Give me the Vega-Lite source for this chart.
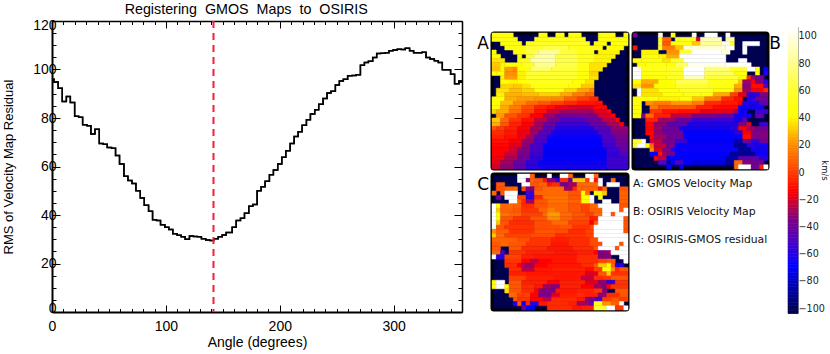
{"$schema":"https://vega.github.io/schema/vega-lite/v6.json","background":"white","padding":{"left":2,"top":2,"right":0,"bottom":0},"spacing":4,"config":{"view":{"stroke":null},"font":"Liberation Sans"},
"datasets":{"curve":[{"a":0,"r":96},{"a":1.8,"r":94.8},{"a":5.4,"r":92.3},{"a":9,"r":86.8},{"a":12.6,"r":88.9},{"a":16.1,"r":86.4},{"a":19.9,"r":80.7},{"a":23.4,"r":80.3},{"a":26.9,"r":77.2},{"a":30.7,"r":76.8},{"a":34.2,"r":73.4},{"a":37.7,"r":75.4},{"a":41.5,"r":69.5},{"a":45,"r":69.2},{"a":48.5,"r":67.8},{"a":52.3,"r":67.5},{"a":55.8,"r":64.5},{"a":59.3,"r":61},{"a":63.2,"r":56},{"a":66.7,"r":54.2},{"a":70.2,"r":53},{"a":73.7,"r":50},{"a":77.5,"r":47},{"a":81,"r":44},{"a":84.8,"r":41.5},{"a":88.3,"r":38},{"a":91.8,"r":37.7},{"a":95.3,"r":36},{"a":99.1,"r":35},{"a":102.6,"r":34},{"a":106.1,"r":32.3},{"a":109.9,"r":31.7},{"a":113.4,"r":31},{"a":116.9,"r":30},{"a":120.7,"r":31.3},{"a":124.2,"r":31.1},{"a":127.7,"r":31},{"a":131.2,"r":30.2},{"a":135,"r":29.7},{"a":138.5,"r":29.5},{"a":142,"r":30.2},{"a":145.9,"r":31},{"a":149.4,"r":31.8},{"a":152.9,"r":32.8},{"a":158.2,"r":35},{"a":161.7,"r":37.7},{"a":165.5,"r":38.7},{"a":169,"r":40.7},{"a":172.8,"r":43.6},{"a":176.3,"r":44.3},{"a":180.1,"r":50},{"a":183.6,"r":51.7},{"a":187.1,"r":53.9},{"a":190.9,"r":56.6},{"a":194.4,"r":58.6},{"a":198.2,"r":61},{"a":201.8,"r":63.8},{"a":205.3,"r":66.5},{"a":209.1,"r":69.5},{"a":212.6,"r":72.4},{"a":216.1,"r":74.3},{"a":219.6,"r":77},{"a":223.4,"r":79.3},{"a":226.9,"r":81.6},{"a":230.7,"r":83.4},{"a":234.2,"r":85.7},{"a":238,"r":88},{"a":241.5,"r":90.3},{"a":245,"r":91},{"a":248.8,"r":93.6},{"a":252.3,"r":95.3},{"a":255.8,"r":96},{"a":259.6,"r":97.4},{"a":263.4,"r":97.5},{"a":267,"r":97.8},{"a":270.8,"r":101.8},{"a":274.3,"r":102.9},{"a":277.8,"r":103.4},{"a":281.6,"r":105},{"a":285.1,"r":106.6},{"a":288.6,"r":106.7},{"a":292.4,"r":106.9},{"a":295.9,"r":107.7},{"a":299.4,"r":108},{"a":303.2,"r":108.4},{"a":306.7,"r":108.2},{"a":310.2,"r":108.8},{"a":314,"r":107.7},{"a":317.5,"r":106.9},{"a":321.1,"r":106.9},{"a":324.9,"r":107.1},{"a":328.4,"r":105},{"a":331.9,"r":104.3},{"a":335.7,"r":103.6},{"a":339.2,"r":102.9},{"a":342.7,"r":99.9},{"a":346.5,"r":99.9},{"a":350,"r":98},{"a":353.5,"r":94.1},{"a":357.3,"r":95.3},{"a":360,"r":95.3}],
"A":[{"x":0,"x2":5,"y":0,"v":45},{"x":11,"x2":13,"y":0,"v":45},{"x":15,"x2":17,"y":0,"v":48},{"x":18,"x2":21,"y":0,"v":45},{"x":25,"x2":29,"y":0,"v":45},{"x":31,"x2":32,"y":0,"v":45},
{"x":0,"x2":6,"y":1,"v":45},{"x":10,"x2":22,"y":1,"v":50},{"x":25,"x2":32,"y":1,"v":45},
{"x":2,"x2":7,"y":2,"v":45},{"x":8,"x2":23,"y":2,"v":55},{"x":24,"x2":27,"y":2,"v":45},{"x":28,"x2":32,"y":2,"v":42},
{"x":3,"x2":8,"y":3,"v":45},{"x":8,"x2":12,"y":3,"v":60},{"x":12,"x2":18,"y":3,"v":65},{"x":18,"x2":24,"y":3,"v":50},{"x":24,"x2":26,"y":3,"v":45},{"x":27,"x2":31,"y":3,"v":40},
{"x":0,"x2":1,"y":4,"v":40},{"x":5,"x2":8,"y":4,"v":45},{"x":8,"x2":11,"y":4,"v":65},{"x":11,"x2":16,"y":4,"v":80},{"x":16,"x2":20,"y":4,"v":62},{"x":20,"x2":24,"y":4,"v":50},{"x":25,"x2":30,"y":4,"v":38},
{"x":0,"x2":2,"y":5,"v":40},{"x":6,"x2":7,"y":5,"v":45},{"x":8,"x2":10,"y":5,"v":62},{"x":10,"x2":15,"y":5,"v":85},{"x":15,"x2":20,"y":5,"v":65},{"x":20,"x2":24,"y":5,"v":50},{"x":24,"x2":29,"y":5,"v":38},
{"x":0,"x2":3,"y":6,"v":35},{"x":6,"x2":9,"y":6,"v":48},{"x":9,"x2":15,"y":6,"v":85},{"x":15,"x2":20,"y":6,"v":65},{"x":20,"x2":24,"y":6,"v":50},{"x":24,"x2":28,"y":6,"v":38},
{"x":0,"x2":2,"y":7,"v":30},{"x":2,"x2":3,"y":7,"v":38},{"x":3,"x2":7,"y":7,"v":40},{"x":7,"x2":10,"y":7,"v":55},{"x":10,"x2":15,"y":7,"v":80},{"x":15,"x2":20,"y":7,"v":65},{"x":20,"x2":23,"y":7,"v":50},{"x":23,"x2":27,"y":7,"v":35},
{"x":0,"x2":2,"y":8,"v":28},{"x":2,"x2":3,"y":8,"v":40},{"x":3,"x2":5,"y":8,"v":22},{"x":5,"x2":6,"y":8,"v":18},{"x":6,"x2":9,"y":8,"v":45},{"x":9,"x2":14,"y":8,"v":72},{"x":14,"x2":20,"y":8,"v":62},{"x":20,"x2":23,"y":8,"v":48},{"x":23,"x2":26,"y":8,"v":35},
{"x":0,"x2":1,"y":9,"v":45},{"x":1,"x2":3,"y":9,"v":40},{"x":3,"x2":6,"y":9,"v":20},{"x":6,"x2":8,"y":9,"v":38},{"x":8,"x2":20,"y":9,"v":60},{"x":20,"x2":23,"y":9,"v":45},{"x":23,"x2":25,"y":9,"v":32},
{"x":2,"x2":3,"y":10,"v":38},{"x":3,"x2":6,"y":10,"v":22},{"x":6,"x2":8,"y":10,"v":38},{"x":8,"x2":20,"y":10,"v":58},{"x":20,"x2":23,"y":10,"v":45},{"x":23,"x2":25,"y":10,"v":35},
{"x":2,"x2":4,"y":11,"v":40},{"x":4,"x2":6,"y":11,"v":38},{"x":6,"x2":8,"y":11,"v":42},{"x":8,"x2":19,"y":11,"v":52},{"x":19,"x2":22,"y":11,"v":42},{"x":22,"x2":24,"y":11,"v":35},
{"x":2,"x2":5,"y":12,"v":32},{"x":5,"x2":7,"y":12,"v":30},{"x":7,"x2":9,"y":12,"v":35},{"x":9,"x2":18,"y":12,"v":48},{"x":18,"x2":21,"y":12,"v":40},{"x":21,"x2":24,"y":12,"v":30},
{"x":1,"x2":4,"y":13,"v":35},{"x":4,"x2":7,"y":13,"v":28},{"x":7,"x2":10,"y":13,"v":32},{"x":10,"x2":17,"y":13,"v":42},{"x":17,"x2":20,"y":13,"v":33},{"x":20,"x2":23,"y":13,"v":24},{"x":23,"x2":24,"y":13,"v":18},
{"x":1,"x2":3,"y":14,"v":38},{"x":3,"x2":7,"y":14,"v":26},{"x":7,"x2":11,"y":14,"v":28},{"x":11,"x2":16,"y":14,"v":32},{"x":16,"x2":19,"y":14,"v":24},{"x":19,"x2":22,"y":14,"v":15},{"x":22,"x2":24,"y":14,"v":8},
{"x":0,"x2":3,"y":15,"v":40},{"x":3,"x2":6,"y":15,"v":25},{"x":6,"x2":10,"y":15,"v":22},{"x":10,"x2":14,"y":15,"v":20},{"x":14,"x2":17,"y":15,"v":18},{"x":17,"x2":20,"y":15,"v":8},{"x":20,"x2":23,"y":15,"v":0},{"x":23,"x2":25,"y":15,"v":-5},
{"x":0,"x2":2,"y":16,"v":42},{"x":2,"x2":5,"y":16,"v":28},{"x":5,"x2":8,"y":16,"v":18},{"x":8,"x2":11,"y":16,"v":10},{"x":11,"x2":14,"y":16,"v":5},{"x":14,"x2":17,"y":16,"v":0},{"x":17,"x2":20,"y":16,"v":-5},{"x":20,"x2":24,"y":16,"v":-10},{"x":24,"x2":26,"y":16,"v":-12},
{"x":0,"x2":2,"y":17,"v":40},{"x":2,"x2":4,"y":17,"v":25},{"x":4,"x2":7,"y":17,"v":15},{"x":7,"x2":10,"y":17,"v":3},{"x":10,"x2":13,"y":17,"v":-8},{"x":13,"x2":15,"y":17,"v":-12},{"x":15,"x2":18,"y":17,"v":-18},{"x":18,"x2":24,"y":17,"v":-22},{"x":24,"x2":27,"y":17,"v":-14},
{"x":0,"x2":1,"y":18,"v":32},{"x":1,"x2":4,"y":18,"v":25},{"x":4,"x2":7,"y":18,"v":12},{"x":7,"x2":10,"y":18,"v":0},{"x":10,"x2":13,"y":18,"v":-12},{"x":13,"x2":16,"y":18,"v":-25},{"x":16,"x2":24,"y":18,"v":-30},{"x":24,"x2":27,"y":18,"v":-20},{"x":27,"x2":28,"y":18,"v":-14},
{"x":1,"x2":3,"y":19,"v":22},{"x":3,"x2":6,"y":19,"v":5},{"x":6,"x2":9,"y":19,"v":-3},{"x":9,"x2":12,"y":19,"v":-15},{"x":12,"x2":15,"y":19,"v":-30},{"x":15,"x2":20,"y":19,"v":-40},{"x":20,"x2":25,"y":19,"v":-38},{"x":25,"x2":28,"y":19,"v":-22},{"x":28,"x2":29,"y":19,"v":-15},
{"x":0,"x2":2,"y":20,"v":30},{"x":2,"x2":4,"y":20,"v":10},{"x":4,"x2":7,"y":20,"v":-3},{"x":7,"x2":10,"y":20,"v":-12},{"x":10,"x2":13,"y":20,"v":-25},{"x":13,"x2":16,"y":20,"v":-38},{"x":16,"x2":22,"y":20,"v":-50},{"x":22,"x2":26,"y":20,"v":-40},{"x":26,"x2":29,"y":20,"v":-25},{"x":29,"x2":30,"y":20,"v":-14},
{"x":0,"x2":2,"y":21,"v":25},{"x":2,"x2":4,"y":21,"v":5},{"x":4,"x2":7,"y":21,"v":-8},{"x":7,"x2":10,"y":21,"v":-15},{"x":10,"x2":12,"y":21,"v":-30},{"x":12,"x2":15,"y":21,"v":-42},{"x":15,"x2":23,"y":21,"v":-55},{"x":23,"x2":27,"y":21,"v":-42},{"x":27,"x2":30,"y":21,"v":-28},{"x":30,"x2":31,"y":21,"v":-15},
{"x":0,"x2":1,"y":22,"v":5},{"x":1,"x2":3,"y":22,"v":-2},{"x":3,"x2":6,"y":22,"v":-8},{"x":6,"x2":9,"y":22,"v":-15},{"x":9,"x2":12,"y":22,"v":-30},{"x":12,"x2":15,"y":22,"v":-48},{"x":15,"x2":24,"y":22,"v":-62},{"x":24,"x2":28,"y":22,"v":-48},{"x":28,"x2":32,"y":22,"v":-32},
{"x":0,"x2":3,"y":23,"v":-5},{"x":3,"x2":6,"y":23,"v":-10},{"x":6,"x2":9,"y":23,"v":-18},{"x":9,"x2":11,"y":23,"v":-30},{"x":11,"x2":14,"y":23,"v":-48},{"x":14,"x2":25,"y":23,"v":-65},{"x":25,"x2":28,"y":23,"v":-50},{"x":28,"x2":32,"y":23,"v":-35},
{"x":0,"x2":3,"y":24,"v":-8},{"x":3,"x2":6,"y":24,"v":-12},{"x":6,"x2":8,"y":24,"v":-18},{"x":8,"x2":10,"y":24,"v":-30},{"x":10,"x2":13,"y":24,"v":-50},{"x":13,"x2":26,"y":24,"v":-68},{"x":26,"x2":29,"y":24,"v":-50},{"x":29,"x2":32,"y":24,"v":-38},
{"x":0,"x2":4,"y":25,"v":-12},{"x":4,"x2":7,"y":25,"v":-17},{"x":7,"x2":10,"y":25,"v":-32},{"x":10,"x2":13,"y":25,"v":-52},{"x":13,"x2":26,"y":25,"v":-70},{"x":26,"x2":29,"y":25,"v":-52},{"x":29,"x2":32,"y":25,"v":-40},
{"x":0,"x2":4,"y":26,"v":-14},{"x":4,"x2":7,"y":26,"v":-20},{"x":7,"x2":9,"y":26,"v":-33},{"x":9,"x2":12,"y":26,"v":-52},{"x":12,"x2":26,"y":26,"v":-70},{"x":26,"x2":29,"y":26,"v":-55},{"x":29,"x2":32,"y":26,"v":-42},
{"x":0,"x2":4,"y":27,"v":-15},{"x":4,"x2":6,"y":27,"v":-22},{"x":6,"x2":9,"y":27,"v":-35},{"x":9,"x2":12,"y":27,"v":-52},{"x":12,"x2":27,"y":27,"v":-72},{"x":27,"x2":30,"y":27,"v":-55},{"x":30,"x2":32,"y":27,"v":-45},
{"x":0,"x2":3,"y":28,"v":-15},{"x":3,"x2":6,"y":28,"v":-25},{"x":6,"x2":9,"y":28,"v":-38},{"x":9,"x2":12,"y":28,"v":-55},{"x":12,"x2":27,"y":28,"v":-72},{"x":27,"x2":30,"y":28,"v":-58},{"x":30,"x2":32,"y":28,"v":-48},
{"x":0,"x2":3,"y":29,"v":-17},{"x":3,"x2":6,"y":29,"v":-28},{"x":6,"x2":9,"y":29,"v":-40},{"x":9,"x2":12,"y":29,"v":-58},{"x":12,"x2":27,"y":29,"v":-70},{"x":27,"x2":32,"y":29,"v":-55},
{"x":0,"x2":2,"y":30,"v":-18},{"x":2,"x2":5,"y":30,"v":-30},{"x":5,"x2":8,"y":30,"v":-42},{"x":8,"x2":11,"y":30,"v":-58},{"x":11,"x2":27,"y":30,"v":-68},{"x":27,"x2":32,"y":30,"v":-55},
{"x":0,"x2":2,"y":31,"v":-22},{"x":2,"x2":5,"y":31,"v":-33},{"x":5,"x2":8,"y":31,"v":-45},{"x":8,"x2":11,"y":31,"v":-60},{"x":11,"x2":27,"y":31,"v":-65},{"x":27,"x2":32,"y":31,"v":-55}],
"B":[{"x":0,"x2":1,"y":0,"v":-40},{"x":6,"x2":7,"y":0,"v":100},{"x":9,"x2":10,"y":0,"v":55},{"x":14,"x2":15,"y":0,"v":100},{"x":17,"x2":20,"y":0,"v":105},{"x":22,"x2":23,"y":0,"v":105},
{"x":6,"x2":7,"y":1,"v":55},{"x":7,"x2":9,"y":1,"v":10},{"x":10,"x2":15,"y":1,"v":55},{"x":15,"x2":16,"y":1,"v":-20},{"x":16,"x2":21,"y":1,"v":90},{"x":22,"x2":24,"y":1,"v":85},
{"x":6,"x2":7,"y":2,"v":60},{"x":7,"x2":9,"y":2,"v":5},{"x":9,"x2":14,"y":2,"v":45},{"x":14,"x2":16,"y":2,"v":30},{"x":16,"x2":21,"y":2,"v":80},{"x":21,"x2":23,"y":2,"v":100},{"x":23,"x2":24,"y":2,"v":60},{"x":26,"x2":30,"y":2,"v":105},
{"x":0,"x2":1,"y":3,"v":-10},{"x":6,"x2":7,"y":3,"v":50},{"x":7,"x2":10,"y":3,"v":15},{"x":10,"x2":12,"y":3,"v":30},{"x":12,"x2":22,"y":3,"v":95},{"x":22,"x2":24,"y":3,"v":105},{"x":26,"x2":27,"y":3,"v":105},
{"x":2,"x2":6,"y":4,"v":38},{"x":8,"x2":11,"y":4,"v":20},{"x":11,"x2":14,"y":4,"v":60},{"x":14,"x2":21,"y":4,"v":105},{"x":21,"x2":23,"y":4,"v":95},{"x":26,"x2":27,"y":4,"v":105},
{"x":2,"x2":6,"y":5,"v":42},{"x":6,"x2":8,"y":5,"v":38},{"x":8,"x2":11,"y":5,"v":25},{"x":11,"x2":22,"y":5,"v":105},
{"x":0,"x2":2,"y":6,"v":45},{"x":2,"x2":7,"y":6,"v":45},{"x":7,"x2":9,"y":6,"v":35},{"x":9,"x2":12,"y":6,"v":60},{"x":12,"x2":22,"y":6,"v":105},{"x":25,"x2":27,"y":6,"v":105},
{"x":1,"x2":3,"y":7,"v":40},{"x":3,"x2":8,"y":7,"v":48},{"x":8,"x2":10,"y":7,"v":42},{"x":10,"x2":13,"y":7,"v":70},{"x":13,"x2":22,"y":7,"v":100},{"x":22,"x2":28,"y":7,"v":105},
{"x":0,"x2":2,"y":8,"v":105},{"x":2,"x2":8,"y":8,"v":50},{"x":8,"x2":12,"y":8,"v":60},{"x":12,"x2":17,"y":8,"v":105},{"x":17,"x2":23,"y":8,"v":75},{"x":23,"x2":27,"y":8,"v":60},{"x":27,"x2":29,"y":8,"v":105},{"x":29,"x2":30,"y":8,"v":50},{"x":31,"x2":32,"y":8,"v":-70},
{"x":0,"x2":2,"y":9,"v":105},{"x":2,"x2":9,"y":9,"v":48},{"x":9,"x2":12,"y":9,"v":60},{"x":12,"x2":17,"y":9,"v":105},{"x":17,"x2":24,"y":9,"v":70},{"x":24,"x2":27,"y":9,"v":45},{"x":29,"x2":30,"y":9,"v":40},{"x":31,"x2":32,"y":9,"v":-60},
{"x":0,"x2":2,"y":10,"v":105},{"x":2,"x2":8,"y":10,"v":45},{"x":8,"x2":12,"y":10,"v":55},{"x":12,"x2":17,"y":10,"v":90},{"x":17,"x2":25,"y":10,"v":62},{"x":25,"x2":27,"y":10,"v":42},{"x":27,"x2":28,"y":10,"v":-5},{"x":28,"x2":29,"y":10,"v":-30},{"x":29,"x2":31,"y":10,"v":-40},
{"x":0,"x2":2,"y":11,"v":40},{"x":2,"x2":6,"y":11,"v":25},{"x":6,"x2":10,"y":11,"v":42},{"x":10,"x2":18,"y":11,"v":68},{"x":18,"x2":25,"y":11,"v":50},{"x":25,"x2":26,"y":11,"v":30},{"x":26,"x2":28,"y":11,"v":-30},{"x":28,"x2":29,"y":11,"v":-15},{"x":29,"x2":31,"y":11,"v":-35},{"x":31,"x2":32,"y":11,"v":-60},
{"x":0,"x2":2,"y":12,"v":35},{"x":2,"x2":5,"y":12,"v":20},{"x":5,"x2":10,"y":12,"v":40},{"x":10,"x2":18,"y":12,"v":60},{"x":18,"x2":24,"y":12,"v":48},{"x":24,"x2":26,"y":12,"v":25},{"x":26,"x2":28,"y":12,"v":-35},{"x":28,"x2":31,"y":12,"v":-12},{"x":31,"x2":32,"y":12,"v":-50},
{"x":1,"x2":2,"y":13,"v":105},{"x":2,"x2":6,"y":13,"v":35},{"x":6,"x2":11,"y":13,"v":42},{"x":11,"x2":19,"y":13,"v":55},{"x":19,"x2":24,"y":13,"v":40},{"x":24,"x2":26,"y":13,"v":20},{"x":26,"x2":28,"y":13,"v":-30},{"x":28,"x2":31,"y":13,"v":-15},{"x":31,"x2":32,"y":13,"v":-5},
{"x":1,"x2":2,"y":14,"v":105},{"x":2,"x2":7,"y":14,"v":35},{"x":7,"x2":12,"y":14,"v":42},{"x":12,"x2":16,"y":14,"v":48},{"x":16,"x2":19,"y":14,"v":45},{"x":19,"x2":23,"y":14,"v":25},{"x":23,"x2":25,"y":14,"v":0},{"x":25,"x2":27,"y":14,"v":-20},{"x":27,"x2":30,"y":14,"v":-60},{"x":30,"x2":32,"y":14,"v":-35},
{"x":0,"x2":6,"y":15,"v":40},{"x":6,"x2":11,"y":15,"v":38},{"x":11,"x2":14,"y":15,"v":42},{"x":14,"x2":17,"y":15,"v":30},{"x":17,"x2":21,"y":15,"v":15},{"x":21,"x2":24,"y":15,"v":-5},{"x":24,"x2":26,"y":15,"v":-12},{"x":27,"x2":29,"y":15,"v":-60},{"x":29,"x2":32,"y":15,"v":-40},
{"x":0,"x2":2,"y":16,"v":42},{"x":3,"x2":5,"y":16,"v":20},{"x":5,"x2":9,"y":16,"v":15},{"x":9,"x2":14,"y":16,"v":22},{"x":14,"x2":17,"y":16,"v":15},{"x":17,"x2":21,"y":16,"v":-5},{"x":21,"x2":25,"y":16,"v":-10},{"x":25,"x2":26,"y":16,"v":-15},{"x":26,"x2":30,"y":16,"v":-62},{"x":30,"x2":32,"y":16,"v":-45},
{"x":0,"x2":2,"y":17,"v":45},{"x":4,"x2":6,"y":17,"v":15},{"x":6,"x2":15,"y":17,"v":5},{"x":15,"x2":19,"y":17,"v":-8},{"x":19,"x2":25,"y":17,"v":-14},{"x":25,"x2":31,"y":17,"v":-65},
{"x":0,"x2":2,"y":18,"v":45},{"x":4,"x2":7,"y":18,"v":-2},{"x":7,"x2":11,"y":18,"v":-10},{"x":11,"x2":16,"y":18,"v":-12},{"x":16,"x2":24,"y":18,"v":-20},{"x":24,"x2":25,"y":18,"v":-30},{"x":25,"x2":27,"y":18,"v":-68},{"x":29,"x2":32,"y":18,"v":-55},
{"x":0,"x2":2,"y":19,"v":42},{"x":2,"x2":3,"y":19,"v":-35},{"x":3,"x2":5,"y":19,"v":10},{"x":5,"x2":9,"y":19,"v":-8},{"x":9,"x2":14,"y":19,"v":-25},{"x":14,"x2":20,"y":19,"v":-35},{"x":20,"x2":24,"y":19,"v":-42},{"x":24,"x2":28,"y":19,"v":-65},{"x":29,"x2":31,"y":19,"v":-45},
{"x":3,"x2":6,"y":20,"v":-8},{"x":6,"x2":10,"y":20,"v":-30},{"x":10,"x2":14,"y":20,"v":-42},{"x":14,"x2":24,"y":20,"v":-55},{"x":24,"x2":26,"y":20,"v":-65},{"x":26,"x2":27,"y":20,"v":-45},
{"x":3,"x2":5,"y":21,"v":-14},{"x":5,"x2":8,"y":21,"v":-32},{"x":8,"x2":13,"y":21,"v":-45},{"x":13,"x2":25,"y":21,"v":-62},{"x":25,"x2":27,"y":21,"v":-35},{"x":27,"x2":28,"y":21,"v":-20},{"x":30,"x2":32,"y":21,"v":-55},
{"x":3,"x2":5,"y":22,"v":-15},{"x":5,"x2":7,"y":22,"v":-30},{"x":7,"x2":11,"y":22,"v":-42},{"x":11,"x2":23,"y":22,"v":-65},{"x":23,"x2":25,"y":22,"v":-60},{"x":25,"x2":27,"y":22,"v":-15},{"x":27,"x2":29,"y":22,"v":-30},{"x":29,"x2":32,"y":22,"v":-40},
{"x":3,"x2":5,"y":23,"v":-14},{"x":5,"x2":7,"y":23,"v":-32},{"x":7,"x2":12,"y":23,"v":-40},{"x":12,"x2":24,"y":23,"v":-70},{"x":24,"x2":26,"y":23,"v":-60},{"x":26,"x2":28,"y":23,"v":-15},{"x":28,"x2":32,"y":23,"v":-35},
{"x":4,"x2":5,"y":24,"v":-15},{"x":5,"x2":8,"y":24,"v":-30},{"x":8,"x2":12,"y":24,"v":-40},{"x":12,"x2":26,"y":24,"v":-70},{"x":26,"x2":28,"y":24,"v":-12},{"x":28,"x2":32,"y":24,"v":-35},
{"x":0,"x2":2,"y":25,"v":60},{"x":2,"x2":3,"y":25,"v":105},{"x":4,"x2":7,"y":25,"v":-25},{"x":7,"x2":10,"y":25,"v":-38},{"x":10,"x2":13,"y":25,"v":-55},{"x":13,"x2":24,"y":25,"v":-72},{"x":24,"x2":26,"y":25,"v":-85},{"x":26,"x2":28,"y":25,"v":-40},{"x":28,"x2":30,"y":25,"v":-60},{"x":30,"x2":32,"y":25,"v":-40},
{"x":0,"x2":1,"y":26,"v":60},{"x":1,"x2":3,"y":26,"v":105},{"x":3,"x2":4,"y":26,"v":40},{"x":4,"x2":5,"y":26,"v":10},{"x":5,"x2":8,"y":26,"v":-25},{"x":8,"x2":10,"y":26,"v":-38},{"x":10,"x2":24,"y":26,"v":-68},{"x":24,"x2":27,"y":26,"v":-90},{"x":27,"x2":29,"y":26,"v":-60},{"x":29,"x2":32,"y":26,"v":-65},
{"x":4,"x2":5,"y":27,"v":20},{"x":5,"x2":7,"y":27,"v":-20},{"x":7,"x2":9,"y":27,"v":-35},{"x":9,"x2":10,"y":27,"v":-60},{"x":10,"x2":25,"y":27,"v":-68},{"x":25,"x2":28,"y":27,"v":-90},{"x":28,"x2":32,"y":27,"v":-65},
{"x":4,"x2":6,"y":28,"v":-70},{"x":6,"x2":7,"y":28,"v":-10},{"x":7,"x2":8,"y":28,"v":-30},{"x":8,"x2":10,"y":28,"v":-38},{"x":10,"x2":23,"y":28,"v":-70},{"x":23,"x2":29,"y":28,"v":-90},{"x":29,"x2":32,"y":28,"v":-68},
{"x":5,"x2":6,"y":29,"v":-15},{"x":6,"x2":8,"y":29,"v":-25},{"x":8,"x2":22,"y":29,"v":-70},{"x":22,"x2":25,"y":29,"v":-85},{"x":25,"x2":30,"y":29,"v":-45},{"x":30,"x2":32,"y":29,"v":-60},
{"x":6,"x2":8,"y":30,"v":-50},{"x":8,"x2":9,"y":30,"v":-85},{"x":9,"x2":10,"y":30,"v":-68},{"x":10,"x2":12,"y":30,"v":-50},{"x":12,"x2":14,"y":30,"v":-70},{"x":14,"x2":22,"y":30,"v":-75},{"x":22,"x2":24,"y":30,"v":-90},{"x":24,"x2":26,"y":30,"v":10},{"x":26,"x2":28,"y":30,"v":-35},{"x":28,"x2":31,"y":30,"v":-40},
{"x":8,"x2":9,"y":31,"v":-70},{"x":11,"x2":12,"y":31,"v":-75},{"x":24,"x2":25,"y":31,"v":10},{"x":25,"x2":28,"y":31,"v":105},{"x":28,"x2":30,"y":31,"v":-40},{"x":30,"x2":31,"y":31,"v":-8},{"x":31,"x2":32,"y":31,"v":105}],
"C":[{"x":6,"x2":9,"y":0,"v":105},{"x":9,"x2":10,"y":0,"v":8},{"x":13,"x2":14,"y":0,"v":105},{"x":16,"x2":18,"y":0,"v":105},{"x":18,"x2":19,"y":0,"v":10},{"x":22,"x2":24,"y":0,"v":105},{"x":24,"x2":25,"y":0,"v":10},
{"x":6,"x2":8,"y":1,"v":105},{"x":8,"x2":9,"y":1,"v":-35},{"x":9,"x2":10,"y":1,"v":10},{"x":10,"x2":12,"y":1,"v":5},{"x":12,"x2":13,"y":1,"v":-10},{"x":13,"x2":15,"y":1,"v":-35},{"x":15,"x2":16,"y":1,"v":-60},{"x":16,"x2":18,"y":1,"v":-5},{"x":18,"x2":19,"y":1,"v":-40},{"x":19,"x2":22,"y":1,"v":30},{"x":22,"x2":23,"y":1,"v":0},{"x":23,"x2":24,"y":1,"v":105},{"x":24,"x2":25,"y":1,"v":-10},{"x":25,"x2":26,"y":1,"v":105},{"x":28,"x2":29,"y":1,"v":10},
{"x":1,"x2":3,"y":2,"v":5},{"x":7,"x2":9,"y":2,"v":105},{"x":9,"x2":11,"y":2,"v":5},{"x":11,"x2":13,"y":2,"v":8},{"x":13,"x2":14,"y":2,"v":-10},{"x":14,"x2":16,"y":2,"v":-5},{"x":16,"x2":18,"y":2,"v":-40},{"x":18,"x2":20,"y":2,"v":-30},{"x":20,"x2":25,"y":2,"v":10},{"x":25,"x2":26,"y":2,"v":105},{"x":27,"x2":30,"y":2,"v":105},
{"x":1,"x2":3,"y":3,"v":5},{"x":3,"x2":5,"y":3,"v":8},{"x":5,"x2":6,"y":3,"v":10},{"x":7,"x2":8,"y":3,"v":0},{"x":8,"x2":10,"y":3,"v":-35},{"x":10,"x2":12,"y":3,"v":5},{"x":12,"x2":17,"y":3,"v":10},{"x":17,"x2":19,"y":3,"v":-30},{"x":19,"x2":20,"y":3,"v":-5},{"x":20,"x2":21,"y":3,"v":10},{"x":21,"x2":25,"y":3,"v":8},{"x":25,"x2":26,"y":3,"v":-10},{"x":26,"x2":27,"y":3,"v":10},{"x":30,"x2":32,"y":3,"v":5},
{"x":0,"x2":1,"y":4,"v":10},{"x":2,"x2":3,"y":4,"v":5},{"x":3,"x2":6,"y":4,"v":105},{"x":8,"x2":10,"y":4,"v":-55},{"x":10,"x2":18,"y":4,"v":10},{"x":18,"x2":21,"y":4,"v":5},{"x":21,"x2":22,"y":4,"v":40},{"x":22,"x2":23,"y":4,"v":10},{"x":24,"x2":26,"y":4,"v":40},{"x":26,"x2":27,"y":4,"v":30},{"x":30,"x2":32,"y":4,"v":8},
{"x":1,"x2":2,"y":5,"v":-40},{"x":3,"x2":6,"y":5,"v":105},{"x":6,"x2":8,"y":5,"v":0},{"x":8,"x2":10,"y":5,"v":-60},{"x":10,"x2":12,"y":5,"v":-5},{"x":12,"x2":18,"y":5,"v":12},{"x":18,"x2":21,"y":5,"v":5},{"x":21,"x2":23,"y":5,"v":40},{"x":23,"x2":24,"y":5,"v":105},{"x":25,"x2":26,"y":5,"v":50},{"x":30,"x2":32,"y":5,"v":8},
{"x":4,"x2":6,"y":6,"v":105},{"x":6,"x2":7,"y":6,"v":10},{"x":7,"x2":8,"y":6,"v":-5},{"x":8,"x2":10,"y":6,"v":-30},{"x":10,"x2":13,"y":6,"v":5},{"x":13,"x2":18,"y":6,"v":12},{"x":18,"x2":21,"y":6,"v":8},{"x":21,"x2":23,"y":6,"v":40},{"x":23,"x2":24,"y":6,"v":105},{"x":26,"x2":28,"y":6,"v":105},{"x":30,"x2":32,"y":6,"v":8},
{"x":0,"x2":1,"y":7,"v":105},{"x":1,"x2":2,"y":7,"v":40},{"x":2,"x2":5,"y":7,"v":10},{"x":5,"x2":7,"y":7,"v":8},{"x":7,"x2":10,"y":7,"v":-5},{"x":10,"x2":13,"y":7,"v":5},{"x":13,"x2":18,"y":7,"v":10},{"x":18,"x2":21,"y":7,"v":5},{"x":21,"x2":23,"y":7,"v":0},{"x":23,"x2":25,"y":7,"v":10},{"x":25,"x2":30,"y":7,"v":105},{"x":30,"x2":32,"y":7,"v":5},
{"x":0,"x2":1,"y":8,"v":105},{"x":1,"x2":2,"y":8,"v":30},{"x":2,"x2":5,"y":8,"v":8},{"x":5,"x2":7,"y":8,"v":5},{"x":7,"x2":11,"y":8,"v":-3},{"x":11,"x2":13,"y":8,"v":8},{"x":13,"x2":15,"y":8,"v":15},{"x":15,"x2":18,"y":8,"v":10},{"x":18,"x2":21,"y":8,"v":5},{"x":21,"x2":23,"y":8,"v":0},{"x":23,"x2":26,"y":8,"v":8},{"x":26,"x2":30,"y":8,"v":105},{"x":30,"x2":31,"y":8,"v":5},{"x":31,"x2":32,"y":8,"v":105},
{"x":0,"x2":1,"y":9,"v":105},{"x":1,"x2":2,"y":9,"v":40},{"x":2,"x2":4,"y":9,"v":12},{"x":4,"x2":7,"y":9,"v":8},{"x":7,"x2":12,"y":9,"v":0},{"x":12,"x2":13,"y":9,"v":10},{"x":13,"x2":16,"y":9,"v":22},{"x":16,"x2":19,"y":9,"v":10},{"x":19,"x2":22,"y":9,"v":5},{"x":22,"x2":24,"y":9,"v":0},{"x":24,"x2":26,"y":9,"v":10},{"x":26,"x2":28,"y":9,"v":105},{"x":28,"x2":29,"y":9,"v":5},{"x":29,"x2":32,"y":9,"v":105},
{"x":0,"x2":1,"y":10,"v":105},{"x":1,"x2":2,"y":10,"v":40},{"x":2,"x2":5,"y":10,"v":5},{"x":5,"x2":9,"y":10,"v":-3},{"x":9,"x2":13,"y":10,"v":5},{"x":13,"x2":16,"y":10,"v":18},{"x":16,"x2":19,"y":10,"v":8},{"x":19,"x2":23,"y":10,"v":3},{"x":23,"x2":25,"y":10,"v":-8},{"x":25,"x2":31,"y":10,"v":105},{"x":31,"x2":32,"y":10,"v":5},
{"x":0,"x2":1,"y":11,"v":105},{"x":1,"x2":2,"y":11,"v":30},{"x":2,"x2":4,"y":11,"v":5},{"x":4,"x2":10,"y":11,"v":-5},{"x":10,"x2":14,"y":11,"v":3},{"x":14,"x2":18,"y":11,"v":10},{"x":18,"x2":23,"y":11,"v":0},{"x":23,"x2":24,"y":11,"v":-15},{"x":24,"x2":25,"y":11,"v":5},{"x":25,"x2":31,"y":11,"v":105},{"x":31,"x2":32,"y":11,"v":5},
{"x":0,"x2":1,"y":12,"v":105},{"x":1,"x2":3,"y":12,"v":5},{"x":3,"x2":10,"y":12,"v":-3},{"x":10,"x2":16,"y":12,"v":3},{"x":16,"x2":19,"y":12,"v":5},{"x":19,"x2":23,"y":12,"v":-3},{"x":23,"x2":24,"y":12,"v":3},{"x":24,"x2":31,"y":12,"v":105},{"x":31,"x2":32,"y":12,"v":5},
{"x":0,"x2":1,"y":13,"v":20},{"x":1,"x2":4,"y":13,"v":8},{"x":4,"x2":10,"y":13,"v":-3},{"x":10,"x2":15,"y":13,"v":5},{"x":15,"x2":18,"y":13,"v":3},{"x":18,"x2":22,"y":13,"v":-5},{"x":22,"x2":24,"y":13,"v":0},{"x":24,"x2":31,"y":13,"v":105},{"x":31,"x2":32,"y":13,"v":5},
{"x":0,"x2":1,"y":14,"v":30},{"x":1,"x2":3,"y":14,"v":10},{"x":3,"x2":9,"y":14,"v":0},{"x":9,"x2":15,"y":14,"v":3},{"x":15,"x2":17,"y":14,"v":-5},{"x":17,"x2":22,"y":14,"v":-3},{"x":22,"x2":24,"y":14,"v":0},{"x":24,"x2":32,"y":14,"v":105},
{"x":0,"x2":6,"y":15,"v":8},{"x":6,"x2":9,"y":15,"v":3},{"x":9,"x2":14,"y":15,"v":-3},{"x":14,"x2":18,"y":15,"v":-8},{"x":18,"x2":23,"y":15,"v":-5},{"x":23,"x2":25,"y":15,"v":3},{"x":25,"x2":32,"y":15,"v":105},
{"x":0,"x2":2,"y":16,"v":5},{"x":2,"x2":4,"y":16,"v":10},{"x":4,"x2":8,"y":16,"v":5},{"x":8,"x2":14,"y":16,"v":-3},{"x":14,"x2":18,"y":16,"v":-10},{"x":18,"x2":23,"y":16,"v":-5},{"x":23,"x2":26,"y":16,"v":3},{"x":26,"x2":30,"y":16,"v":105},{"x":30,"x2":31,"y":16,"v":5},{"x":31,"x2":32,"y":16,"v":105},
{"x":0,"x2":2,"y":17,"v":5},{"x":4,"x2":7,"y":17,"v":5},{"x":7,"x2":13,"y":17,"v":-5},{"x":13,"x2":19,"y":17,"v":-10},{"x":19,"x2":24,"y":17,"v":-5},{"x":24,"x2":25,"y":17,"v":5},{"x":25,"x2":29,"y":17,"v":105},{"x":29,"x2":30,"y":17,"v":5},{"x":30,"x2":32,"y":17,"v":105},
{"x":0,"x2":2,"y":18,"v":10},{"x":2,"x2":3,"y":18,"v":-50},{"x":4,"x2":8,"y":18,"v":-3},{"x":8,"x2":15,"y":18,"v":-8},{"x":15,"x2":20,"y":18,"v":-10},{"x":20,"x2":24,"y":18,"v":-8},{"x":24,"x2":25,"y":18,"v":-15},{"x":25,"x2":27,"y":18,"v":-35},{"x":27,"x2":28,"y":18,"v":-30},{"x":28,"x2":32,"y":18,"v":105},
{"x":0,"x2":1,"y":19,"v":105},{"x":1,"x2":3,"y":19,"v":-60},{"x":3,"x2":7,"y":19,"v":0},{"x":7,"x2":10,"y":19,"v":-8},{"x":10,"x2":20,"y":19,"v":-10},{"x":20,"x2":25,"y":19,"v":-5},{"x":25,"x2":28,"y":19,"v":-35},{"x":30,"x2":32,"y":19,"v":105},
{"x":3,"x2":7,"y":20,"v":-3},{"x":7,"x2":9,"y":20,"v":-15},{"x":9,"x2":11,"y":20,"v":-25},{"x":11,"x2":14,"y":20,"v":-15},{"x":14,"x2":20,"y":20,"v":-10},{"x":20,"x2":25,"y":20,"v":-5},{"x":25,"x2":27,"y":20,"v":0},{"x":27,"x2":29,"y":20,"v":5},{"x":31,"x2":32,"y":20,"v":105},
{"x":3,"x2":6,"y":21,"v":-5},{"x":6,"x2":7,"y":21,"v":-15},{"x":7,"x2":10,"y":21,"v":-30},{"x":10,"x2":13,"y":21,"v":-15},{"x":13,"x2":21,"y":21,"v":-10},{"x":21,"x2":24,"y":21,"v":-5},{"x":24,"x2":25,"y":21,"v":5},{"x":25,"x2":27,"y":21,"v":30},{"x":27,"x2":28,"y":21,"v":40},{"x":28,"x2":29,"y":21,"v":10},{"x":29,"x2":31,"y":21,"v":-60},
{"x":4,"x2":7,"y":22,"v":-5},{"x":7,"x2":10,"y":22,"v":-25},{"x":10,"x2":14,"y":22,"v":-10},{"x":14,"x2":22,"y":22,"v":-8},{"x":22,"x2":24,"y":22,"v":-12},{"x":24,"x2":26,"y":22,"v":0},{"x":26,"x2":28,"y":22,"v":40},{"x":28,"x2":29,"y":22,"v":20},{"x":29,"x2":30,"y":22,"v":-5},{"x":30,"x2":32,"y":22,"v":5},
{"x":4,"x2":8,"y":23,"v":-8},{"x":8,"x2":22,"y":23,"v":-10},{"x":22,"x2":25,"y":23,"v":-20},{"x":25,"x2":27,"y":23,"v":5},{"x":27,"x2":28,"y":23,"v":30},{"x":28,"x2":32,"y":23,"v":-3},
{"x":4,"x2":8,"y":24,"v":0},{"x":8,"x2":15,"y":24,"v":-8},{"x":15,"x2":21,"y":24,"v":-10},{"x":21,"x2":24,"y":24,"v":-25},{"x":24,"x2":26,"y":24,"v":-5},{"x":26,"x2":28,"y":24,"v":-3},{"x":28,"x2":32,"y":24,"v":5},
{"x":0,"x2":1,"y":25,"v":40},{"x":1,"x2":3,"y":25,"v":105},{"x":4,"x2":7,"y":25,"v":5},{"x":7,"x2":13,"y":25,"v":-8},{"x":13,"x2":16,"y":25,"v":-15},{"x":16,"x2":22,"y":25,"v":-8},{"x":22,"x2":25,"y":25,"v":-20},{"x":25,"x2":27,"y":25,"v":-32},{"x":27,"x2":29,"y":25,"v":-60},{"x":29,"x2":32,"y":25,"v":-3},
{"x":0,"x2":1,"y":26,"v":40},{"x":1,"x2":3,"y":26,"v":105},{"x":3,"x2":4,"y":26,"v":40},{"x":4,"x2":7,"y":26,"v":5},{"x":7,"x2":10,"y":26,"v":-5},{"x":10,"x2":12,"y":26,"v":-10},{"x":12,"x2":14,"y":26,"v":-30},{"x":14,"x2":16,"y":26,"v":-35},{"x":16,"x2":21,"y":26,"v":-8},{"x":21,"x2":24,"y":26,"v":-15},{"x":24,"x2":26,"y":26,"v":-30},{"x":26,"x2":27,"y":26,"v":-35},{"x":27,"x2":28,"y":26,"v":-15},{"x":28,"x2":32,"y":26,"v":-3},
{"x":3,"x2":4,"y":27,"v":35},{"x":4,"x2":7,"y":27,"v":5},{"x":7,"x2":10,"y":27,"v":-5},{"x":10,"x2":11,"y":27,"v":-15},{"x":11,"x2":15,"y":27,"v":-35},{"x":15,"x2":20,"y":27,"v":-10},{"x":20,"x2":24,"y":27,"v":-8},{"x":24,"x2":26,"y":27,"v":-3},{"x":26,"x2":27,"y":27,"v":-35},{"x":29,"x2":32,"y":27,"v":5},
{"x":4,"x2":6,"y":28,"v":10},{"x":6,"x2":9,"y":28,"v":0},{"x":9,"x2":11,"y":28,"v":-15},{"x":11,"x2":14,"y":28,"v":-38},{"x":14,"x2":16,"y":28,"v":-20},{"x":16,"x2":20,"y":28,"v":-8},{"x":20,"x2":22,"y":28,"v":-5},{"x":22,"x2":25,"y":28,"v":-8},{"x":25,"x2":26,"y":28,"v":-35},{"x":26,"x2":27,"y":28,"v":-30},{"x":27,"x2":30,"y":28,"v":-5},{"x":30,"x2":32,"y":28,"v":5},
{"x":5,"x2":6,"y":29,"v":5},{"x":6,"x2":9,"y":29,"v":-3},{"x":9,"x2":12,"y":29,"v":-15},{"x":12,"x2":14,"y":29,"v":-25},{"x":14,"x2":20,"y":29,"v":-5},{"x":20,"x2":22,"y":29,"v":-10},{"x":22,"x2":24,"y":29,"v":-35},{"x":24,"x2":26,"y":29,"v":-50},{"x":26,"x2":28,"y":29,"v":0},{"x":28,"x2":30,"y":29,"v":5},{"x":30,"x2":32,"y":29,"v":0},
{"x":5,"x2":6,"y":30,"v":-60},{"x":6,"x2":7,"y":30,"v":5},{"x":7,"x2":8,"y":30,"v":-65},{"x":8,"x2":9,"y":30,"v":-5},{"x":9,"x2":11,"y":30,"v":-60},{"x":11,"x2":13,"y":30,"v":-10},{"x":13,"x2":18,"y":30,"v":-5},{"x":18,"x2":20,"y":30,"v":-8},{"x":20,"x2":23,"y":30,"v":-30},{"x":23,"x2":24,"y":30,"v":-50},{"x":24,"x2":26,"y":30,"v":50},{"x":26,"x2":28,"y":30,"v":20},{"x":28,"x2":30,"y":30,"v":8},{"x":30,"x2":31,"y":30,"v":105},
{"x":7,"x2":8,"y":31,"v":-40},{"x":8,"x2":10,"y":31,"v":-70},{"x":13,"x2":19,"y":31,"v":-5},{"x":19,"x2":21,"y":31,"v":-10},{"x":21,"x2":24,"y":31,"v":-8},{"x":24,"x2":27,"y":31,"v":60},{"x":27,"x2":29,"y":31,"v":105},{"x":29,"x2":31,"y":31,"v":-3},{"x":31,"x2":32,"y":31,"v":105}],
"bar":[{"v":-104,"w":-102},{"v":-102,"w":-100},{"v":-100,"w":-98},{"v":-98,"w":-96},{"v":-96,"w":-94},{"v":-94,"w":-92},{"v":-92,"w":-90},{"v":-90,"w":-88},{"v":-88,"w":-86},{"v":-86,"w":-84},{"v":-84,"w":-82},{"v":-82,"w":-80},{"v":-80,"w":-78},{"v":-78,"w":-76},{"v":-76,"w":-74},{"v":-74,"w":-72},{"v":-72,"w":-70},{"v":-70,"w":-68},{"v":-68,"w":-66},{"v":-66,"w":-64},{"v":-64,"w":-62},{"v":-62,"w":-60},{"v":-60,"w":-58},{"v":-58,"w":-56},{"v":-56,"w":-54},{"v":-54,"w":-52},{"v":-52,"w":-50},{"v":-50,"w":-48},{"v":-48,"w":-46},{"v":-46,"w":-44},{"v":-44,"w":-42},{"v":-42,"w":-40},{"v":-40,"w":-38},{"v":-38,"w":-36},{"v":-36,"w":-34},{"v":-34,"w":-32},{"v":-32,"w":-30},{"v":-30,"w":-28},{"v":-28,"w":-26},{"v":-26,"w":-24},{"v":-24,"w":-22},{"v":-22,"w":-20},{"v":-20,"w":-18},{"v":-18,"w":-16},{"v":-16,"w":-14},{"v":-14,"w":-12},{"v":-12,"w":-10},{"v":-10,"w":-8},{"v":-8,"w":-6},{"v":-6,"w":-4},{"v":-4,"w":-2},{"v":-2,"w":0},{"v":0,"w":2},{"v":2,"w":4},{"v":4,"w":6},{"v":6,"w":8},{"v":8,"w":10},{"v":10,"w":12},{"v":12,"w":14},{"v":14,"w":16},{"v":16,"w":18},{"v":18,"w":20},{"v":20,"w":22},{"v":22,"w":24},{"v":24,"w":26},{"v":26,"w":28},{"v":28,"w":30},{"v":30,"w":32},{"v":32,"w":34},{"v":34,"w":36},{"v":36,"w":38},{"v":38,"w":40},{"v":40,"w":42},{"v":42,"w":44},{"v":44,"w":46},{"v":46,"w":48},{"v":48,"w":50},{"v":50,"w":52},{"v":52,"w":54},{"v":54,"w":56},{"v":56,"w":58},{"v":58,"w":60},{"v":60,"w":62},{"v":62,"w":64},{"v":64,"w":66},{"v":66,"w":68},{"v":68,"w":70},{"v":70,"w":72},{"v":72,"w":74},{"v":74,"w":76},{"v":76,"w":78},{"v":78,"w":80},{"v":80,"w":82},{"v":82,"w":84},{"v":84,"w":86},{"v":86,"w":88},{"v":88,"w":90},{"v":90,"w":92},{"v":92,"w":94},{"v":94,"w":96},{"v":96,"w":98},{"v":98,"w":100},{"v":100,"w":102},{"v":102,"w":104},{"v":104,"w":106.6}]},
"hconcat":[
{"width":410,"height":291,"title":{"text":"Registering\u00a0\u00a0GMOS\u00a0\u00a0Maps\u00a0\u00a0to\u00a0\u00a0OSIRIS","font":"Liberation Sans","fontSize":14.3,"fontWeight":"normal","offset":1,"anchor":"start","dx":122},
"resolve":{"axis":{"x":"independent","y":"independent"}},
"layer":[
{"data":{"name":"curve"},"mark":{"type":"line","interpolate":"step-after","color":"black","strokeWidth":1.5},
"encoding":{"x":{"field":"a","type":"quantitative","scale":{"domain":[0,360],"nice":false},"axis":{"values":[0,10,20,30,40,50,60,70,80,90,100,110,120,130,140,150,160,170,180,190,200,210,220,230,240,250,260,270,280,290,300,310,320,330,340,350,360],"grid":false,"title":"Angle (degrees)","titleFontSize":14,"titleFontWeight":"normal","titleColor":"black","titlePadding":-1,"labelFontSize":14,"labelColor":"black","labelPadding":14,"labelAngle":0,"labelFlush":false,"labelOverlap":false,"labelExpr":"datum.value%100==0?datum.label:''","domainColor":"black","domainWidth":2,"tickColor":"black","tickWidth":1,"tickSize":{"condition":{"test":"datum.value%100==0","value":-7},"value":-3.5}}},
"y":{"field":"r","type":"quantitative","scale":{"domain":[0,120],"nice":false,"zero":false},"axis":{"values":[0,5,10,15,20,25,30,35,40,45,50,55,60,65,70,75,80,85,90,95,100,105,110,115,120],"grid":false,"title":"RMS of Velocity Map Residual","titleFontSize":13,"titleFontWeight":"normal","titleColor":"black","titlePadding":17,"labelFontSize":14,"labelColor":"black","labelPadding":4,"labelOverlap":false,"labelFlush":true,"labelFlushOffset":3,"labelExpr":"datum.value%20==0?datum.label:''","domainColor":"black","domainWidth":2,"tickColor":"black","tickWidth":1,"tickSize":{"condition":{"test":"datum.value%20==0","value":-8},"value":-4}}}}},
{"data":{"name":"curve"},"mark":{"type":"line","interpolate":"step-after","color":"black","strokeWidth":1.5},
"encoding":{"x":{"field":"a","type":"quantitative","scale":{"domain":[0,360],"nice":false},"axis":{"orient":"top","values":[0,10,20,30,40,50,60,70,80,90,100,110,120,130,140,150,160,170,180,190,200,210,220,230,240,250,260,270,280,290,300,310,320,330,340,350,360],"grid":false,"title":null,"labels":false,"domainColor":"black","domainWidth":1.5,"tickColor":"black","tickWidth":1,"tickSize":{"condition":{"test":"datum.value%100==0","value":-7},"value":-3.5}}},
"y":{"field":"r","type":"quantitative","scale":{"domain":[0,120],"nice":false,"zero":false},"axis":{"orient":"right","values":[0,5,10,15,20,25,30,35,40,45,50,55,60,65,70,75,80,85,90,95,100,105,110,115,120],"grid":false,"title":null,"labels":false,"domainColor":"black","domainWidth":1.5,"tickColor":"black","tickWidth":1,"tickSize":{"condition":{"test":"datum.value%20==0","value":-8},"value":-4}}}}},
{"data":{"values":[{"a":141.8}]},"mark":{"type":"rule","color":"#ff1a3c","strokeWidth":2,"strokeDash":[7,5]},"encoding":{"x":{"field":"a","type":"quantitative","axis":null}}}
]},
{"width":2,"height":1,"data":{"values":[{}]},"mark":{"type":"rect","opacity":0},"encoding":{}},
{"spacing":1,"vconcat":[
{"width":1,"height":9,"data":{"values":[{}]},"mark":{"type":"rect","opacity":0},"encoding":{}},
{"spacing":1,"hconcat":[
{"width":136,"height":136,"view":{"fill":"#000050","stroke":"black","strokeWidth":3,"cornerRadius":2},"layer":[{"data":{"name":"A"},"mark":{"type":"rect","strokeWidth":0.5,"opacity":1},"encoding":{"x":{"field":"x","type":"quantitative","scale":{"domain":[0,32],"nice":false},"axis":null},"x2":{"field":"x2"},"y":{"field":"y","type":"ordinal","scale":{"type":"band","paddingInner":0,"paddingOuter":0,"domain":[0,1,2,3,4,5,6,7,8,9,10,11,12,13,14,15,16,17,18,19,20,21,22,23,24,25,26,27,28,29,30,31]},"axis":null},"color":{"field":"v","type":"quantitative","legend":null,"scale":{"clamp":true,"interpolate":"rgb","domain":[-103,-70,-50,-35,-15,0,20,40,60,80,105],"range":["#000050","#0000ff","#5000c0","#800080","#ff0000","#ff4000","#ff9000","#ffff00","#ffff30","#ffff90","#ffffff"]}},"stroke":{"field":"v","type":"quantitative","legend":null,"scale":{"clamp":true,"interpolate":"rgb","domain":[-103,-70,-50,-35,-15,0,20,40,60,80,105],"range":["#000050","#0000ff","#5000c0","#800080","#ff0000","#ff4000","#ff9000","#ffff00","#ffff30","#ffff90","#ffffff"]}}}},{"data":{"values":[{"t":"A","x":-2.1,"y":2}]},"mark":{"type":"text","fontSize":17,"font":"DejaVu Sans","color":"black"},"encoding":{"x":{"field":"x","type":"quantitative"},"y":{"field":"y","type":"ordinal"},"text":{"field":"t"}}}]},
{"width":135,"height":136,"view":{"fill":"#000050","stroke":"black","strokeWidth":3,"cornerRadius":2},"layer":[{"data":{"name":"B"},"mark":{"type":"rect","strokeWidth":0.5,"opacity":1},"encoding":{"x":{"field":"x","type":"quantitative","scale":{"domain":[0,32],"nice":false},"axis":null},"x2":{"field":"x2"},"y":{"field":"y","type":"ordinal","scale":{"type":"band","paddingInner":0,"paddingOuter":0,"domain":[0,1,2,3,4,5,6,7,8,9,10,11,12,13,14,15,16,17,18,19,20,21,22,23,24,25,26,27,28,29,30,31]},"axis":null},"color":{"field":"v","type":"quantitative","legend":null,"scale":{"clamp":true,"interpolate":"rgb","domain":[-103,-70,-50,-35,-15,0,20,40,60,80,105],"range":["#000050","#0000ff","#5000c0","#800080","#ff0000","#ff4000","#ff9000","#ffff00","#ffff30","#ffff90","#ffffff"]}},"stroke":{"field":"v","type":"quantitative","legend":null,"scale":{"clamp":true,"interpolate":"rgb","domain":[-103,-70,-50,-35,-15,0,20,40,60,80,105],"range":["#000050","#0000ff","#5000c0","#800080","#ff0000","#ff4000","#ff9000","#ffff00","#ffff30","#ffff90","#ffffff"]}}}},{"data":{"values":[{"t":"B","x":33.7,"y":2}]},"mark":{"type":"text","fontSize":17,"font":"DejaVu Sans","color":"black"},"encoding":{"x":{"field":"x","type":"quantitative"},"y":{"field":"y","type":"ordinal"},"text":{"field":"t"}}}]}
]},
{"spacing":1,"hconcat":[
{"width":136,"height":136,"view":{"fill":"#000050","stroke":"black","strokeWidth":3,"cornerRadius":2},"layer":[{"data":{"name":"C"},"mark":{"type":"rect","strokeWidth":0.5,"opacity":1},"encoding":{"x":{"field":"x","type":"quantitative","scale":{"domain":[0,32],"nice":false},"axis":null},"x2":{"field":"x2"},"y":{"field":"y","type":"ordinal","scale":{"type":"band","paddingInner":0,"paddingOuter":0,"domain":[0,1,2,3,4,5,6,7,8,9,10,11,12,13,14,15,16,17,18,19,20,21,22,23,24,25,26,27,28,29,30,31]},"axis":null},"color":{"field":"v","type":"quantitative","legend":null,"scale":{"clamp":true,"interpolate":"rgb","domain":[-103,-70,-50,-35,-15,0,20,40,60,80,105],"range":["#000050","#0000ff","#5000c0","#800080","#ff0000","#ff4000","#ff9000","#ffff00","#ffff30","#ffff90","#ffffff"]}},"stroke":{"field":"v","type":"quantitative","legend":null,"scale":{"clamp":true,"interpolate":"rgb","domain":[-103,-70,-50,-35,-15,0,20,40,60,80,105],"range":["#000050","#0000ff","#5000c0","#800080","#ff0000","#ff4000","#ff9000","#ffff00","#ffff30","#ffff90","#ffffff"]}}}},{"data":{"values":[{"t":"C","x":-2.1,"y":2}]},"mark":{"type":"text","fontSize":17,"font":"DejaVu Sans","color":"black"},"encoding":{"x":{"field":"x","type":"quantitative"},"y":{"field":"y","type":"ordinal"},"text":{"field":"t"}}}]},
{"width":135,"height":136,"data":{"values":[{"t":"A: GMOS Velocity Map","n":1},{"t":"B: OSIRIS Velocity Map","n":2},{"t":"C: OSIRIS-GMOS residual","n":3}]},"mark":{"type":"text","font":"DejaVu Sans","fontSize":10.8,"align":"left","dx":2,"color":"#111111"},"encoding":{"x":{"datum":0,"type":"quantitative","scale":{"domain":[0,1]},"axis":null},"y":{"field":"n","type":"quantitative","scale":{"domain":[0.64,5.497],"nice":false,"zero":false,"reverse":true},"axis":null},"text":{"field":"t"}}}
]}
]},
{"spacing":4,"vconcat":[
{"width":1,"height":1,"data":{"values":[{}]},"mark":{"type":"rect","opacity":0},"encoding":{}},
{"width":10,"height":286,"view":{"stroke":"#999999","strokeWidth":1},"data":{"name":"bar"},"mark":{"type":"rect","opacity":1,"strokeWidth":0.6},"encoding":{"y":{"field":"v","type":"quantitative","scale":{"domain":[-103.6,106.6],"nice":false,"zero":false},"axis":{"orient":"right","values":[-100,-80,-60,-40,-20,0,20,40,60,80,100],"grid":false,"domain":false,"ticks":false,"labelFont":"DejaVu Sans","labelFontSize":9.6,"labelColor":"#222222","labelPadding":0,"title":"km/s","titleFont":"DejaVu Sans","titleFontSize":8.5,"titleFontWeight":"normal","titleColor":"#222222","titlePadding":-5}},"y2":{"field":"w"},"color":{"field":"v","type":"quantitative","legend":null,"scale":{"clamp":true,"interpolate":"rgb","domain":[-103,-70,-50,-35,-15,0,20,40,60,80,105],"range":["#000050","#0000ff","#5000c0","#800080","#ff0000","#ff4000","#ff9000","#ffff00","#ffff30","#ffff90","#ffffff"]}},"stroke":{"field":"v","type":"quantitative","legend":null,"scale":{"clamp":true,"interpolate":"rgb","domain":[-103,-70,-50,-35,-15,0,20,40,60,80,105],"range":["#000050","#0000ff","#5000c0","#800080","#ff0000","#ff4000","#ff9000","#ffff00","#ffff30","#ffff90","#ffffff"]}}}}
]}
]}
